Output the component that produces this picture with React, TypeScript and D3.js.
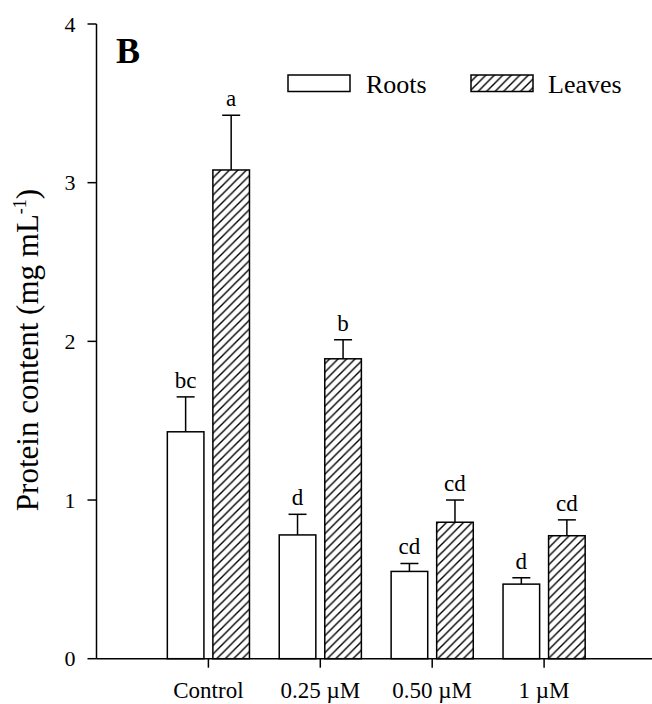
import React from "react";
import * as d3 from "d3";

const categories = ["Control", "0.25 µM", "0.50 µM", "1 µM"];
const rootsValues = [1.43, 0.78, 0.55, 0.47];
const rootsErrors = [0.22, 0.13, 0.05, 0.04];
const rootsLetters = ["bc", "d", "cd", "d"];
const leavesValues = [3.08, 1.89, 0.86, 0.775];
const leavesErrors = [0.345, 0.12, 0.14, 0.1];
const leavesLetters = ["a", "b", "cd", "cd"];
const yTicks = [0, 1, 2, 3, 4];

const W = 652;
const H = 704;
const FONT = "'Liberation Serif', 'Times New Roman', serif";

export default function App() {
  const x = d3.scaleLinear().domain([0, 5]).range([96.5, 656]);
  const y = d3.scaleLinear().domain([0, 4]).range([658.7, 24]);
  const halfGap = 0.04;
  const barW = 0.327;

  const series = [
    { vals: rootsValues, errs: rootsErrors, letters: rootsLetters, off: -halfGap - barW, fill: "#fff" },
    { vals: leavesValues, errs: leavesErrors, letters: leavesLetters, off: halfGap, fill: "url(#hatch)" },
  ];

  return (
    <svg width={W} height={H} style={{ position: "absolute", left: 0, top: 0, background: "#fff" }}>
      <defs>
        <pattern id="hatch" patternUnits="userSpaceOnUse" width="8.5" height="8.5">
          <rect width="8.5" height="8.5" fill="#fff" />
          <path d="M0,8.5 L8.5,0 M-2,2 L2,-2 M6.5,10.5 L10.5,6.5" stroke="#000" strokeWidth="1.4" />
        </pattern>
      </defs>

      {/* bars */}
      {series.map((s, si) =>
        s.vals.map((v, i) => {
          const x0 = x(i + 1 + s.off);
          const x1 = x(i + 1 + s.off + barW);
          const cx = (x0 + x1) / 2;
          const yTop = y(v);
          const yCap = y(v + s.errs[i]);
          return (
            <g key={`${si}-${i}`}>
              <line x1={cx} x2={cx} y1={yTop} y2={yCap} stroke="#000" strokeWidth={1.5} />
              <line x1={cx - 9} x2={cx + 9} y1={yCap} y2={yCap} stroke="#000" strokeWidth={1.5} />
              <rect x={x0} y={yTop} width={x1 - x0} height={y(0) - yTop} fill={s.fill} stroke="#000" strokeWidth={1.5} />
              <text x={cx} y={yCap - 9} textAnchor="middle" fontFamily={FONT} fontSize={23}>
                {s.letters[i]}
              </text>
            </g>
          );
        })
      )}

      {/* y axis */}
      <line x1={x(0)} x2={x(0)} y1={y(4)} y2={y(0)} stroke="#000" strokeWidth={1.5} />
      {yTicks.map((t) => (
        <g key={t}>
          <line x1={x(0) - 9} x2={x(0)} y1={y(t)} y2={y(t)} stroke="#000" strokeWidth={1.5} />
          <text x={x(0) - 21} y={y(t)} dy="0.35em" textAnchor="end" fontFamily={FONT} fontSize={22}>
            {t}
          </text>
        </g>
      ))}

      {/* x axis */}
      <line x1={x(0)} x2={W} y1={y(0)} y2={y(0)} stroke="#000" strokeWidth={1.5} />
      {categories.map((c, i) => (
        <g key={c}>
          <line x1={x(i + 1)} x2={x(i + 1)} y1={y(0)} y2={y(0) + 9} stroke="#000" strokeWidth={1.5} />
          <text x={x(i + 1)} y={698} textAnchor="middle" fontFamily={FONT} fontSize={23}>
            {c}
          </text>
        </g>
      ))}

      {/* y title */}
      <text transform={`translate(38, 350) rotate(-90)`} textAnchor="middle" fontFamily={FONT} fontSize={31}>
        Protein content (mg mL
        <tspan dy="-12" fontSize={18}>-1</tspan>
        <tspan dy="12">)</tspan>
      </text>

      {/* panel letter */}
      <text x={116} y={63} fontFamily={FONT} fontSize={36} fontWeight="bold">
        B
      </text>

      {/* legend */}
      <rect x={288} y={75} width={62} height={16.5} fill="#fff" stroke="#000" strokeWidth={1.5} />
      <text x={366} y={92.5} fontFamily={FONT} fontSize={26}>
        Roots
      </text>
      <rect x={471} y={75} width={62} height={16.5} fill="url(#hatch)" stroke="#000" strokeWidth={1.5} />
      <text x={548} y={92.5} fontFamily={FONT} fontSize={26}>
        Leaves
      </text>
    </svg>
  );
}
